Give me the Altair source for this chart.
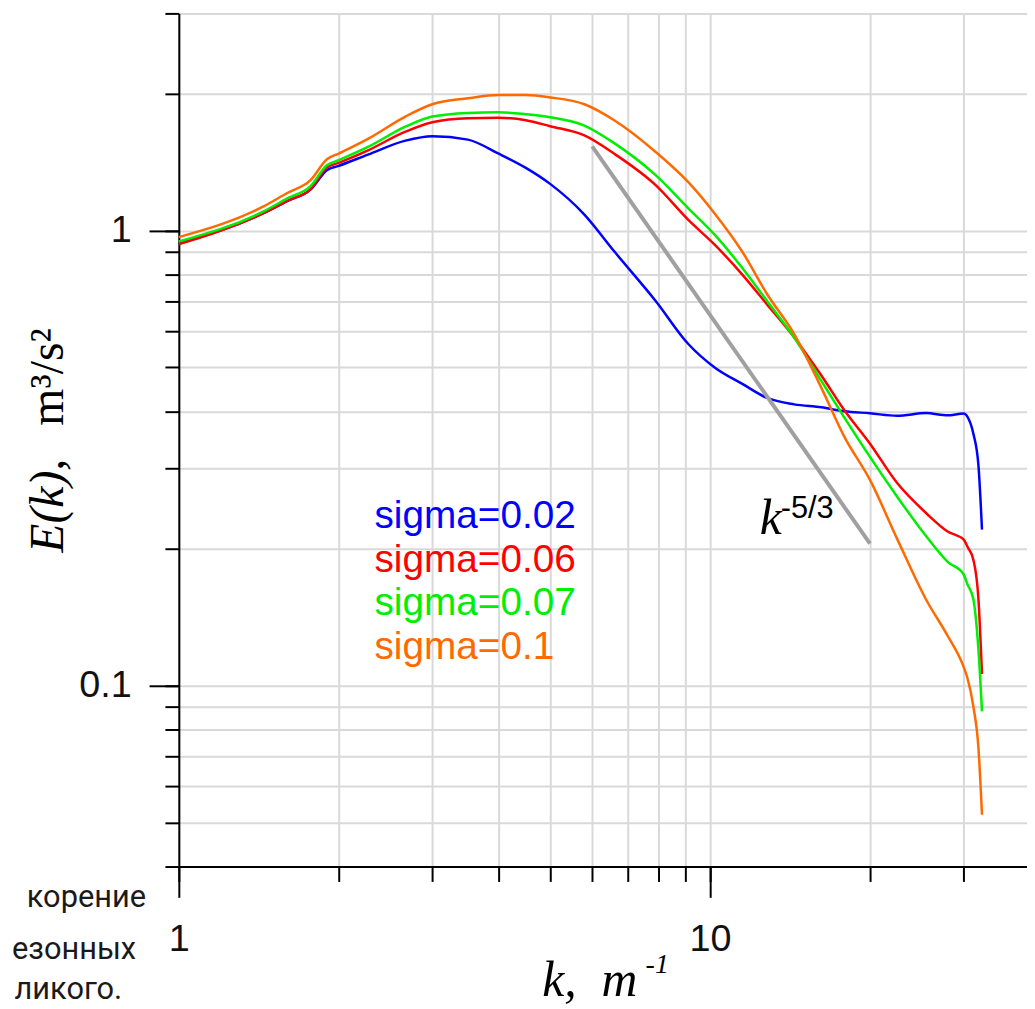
import altair as alt
import pandas as pd

# ---------------- data ----------------
K = [1.0, 1.44, 1.6, 1.77, 1.9, 2.0, 2.27, 2.67, 3.0, 3.5, 4.0, 4.5, 5.0, 5.8, 6.6, 7.9, 9.1,
     10.2, 11.5, 12.8, 14.4, 16.2, 17.9, 20.0, 22.5, 25.5, 28.0, 30.0, 30.5, 31.3, 32.0, 32.5]

E_SIGMA_002 = [0.935, 1.09, 1.16, 1.23, 1.357, 1.387, 1.468, 1.576, 1.612, 1.584, 1.475, 1.373,
               1.266, 1.084, 0.900, 0.700, 0.563, 0.500, 0.460, 0.4286, 0.4148, 0.4086, 0.4005,
               0.3965, 0.3915, 0.397, 0.3925, 0.396, 0.39, 0.358, 0.305, 0.22]
E_SIGMA_006 = [0.933, 1.091, 1.162, 1.233, 1.375, 1.408, 1.500, 1.649, 1.730, 1.765, 1.769, 1.747,
               1.695, 1.618, 1.475, 1.258, 1.055, 0.931, 0.800, 0.688, 0.582, 0.480, 0.4025,
               0.340, 0.2785, 0.2394, 0.218, 0.2094, 0.202, 0.189, 0.155, 0.106]
E_SIGMA_007 = [0.946, 1.100, 1.176, 1.252, 1.391, 1.427, 1.526, 1.691, 1.780, 1.813, 1.819, 1.801,
               1.774, 1.701, 1.556, 1.323, 1.119, 0.979, 0.827, 0.700, 0.582, 0.467, 0.388,
               0.318, 0.260, 0.213, 0.187, 0.1756, 0.167, 0.155, 0.120, 0.0877]
E_SIGMA_010 = [0.967, 1.128, 1.209, 1.290, 1.434, 1.476, 1.590, 1.780, 1.894, 1.952, 1.984, 1.984,
               1.961, 1.894, 1.747, 1.488, 1.277, 1.090, 0.898, 0.725, 0.592, 0.451, 0.352,
               0.283, 0.210, 0.1545, 0.1286, 0.110, 0.104, 0.090, 0.073, 0.052]

SERIES = ["sigma=0.02", "sigma=0.06", "sigma=0.07", "sigma=0.1"]
COLORS = ["#0000ff", "#ff0000", "#00ee00", "#ff6a00"]

K_REF = [6.0, 20.0]          # k^-5/3 reference line
E_REF = [1.53, 0.205]

X_TICKS = [1, 2, 3, 4, 5, 6, 7, 8, 9, 10, 20, 30]
X_LABELS = [1, 10]
Y_TICKS = [0.04, 0.05, 0.06, 0.07, 0.08, 0.09, 0.1, 0.2, 0.3, 0.4, 0.5, 0.6, 0.7, 0.8, 0.9,
           1, 2, 3]
Y_LABELS = [0.1, 1]
X_DOMAIN = [1, 39.5]
Y_DOMAIN = [0.04, 3]

SIDE_TEXT = ["корение", "езонных", "ликого."]

# ---------------- build ----------------
rows = []
for name, vals in zip(SERIES, [E_SIGMA_002, E_SIGMA_006, E_SIGMA_007, E_SIGMA_010]):
    for k, e in zip(K, vals):
        rows.append({"k": k, "E": e, "series": name})
df = pd.DataFrame(rows)
ref = pd.DataFrame({"k": K_REF, "E": E_REF})

W, H = 854, 859
xs = alt.Scale(type="log", domain=X_DOMAIN, nice=False)
ys = alt.Scale(type="log", domain=Y_DOMAIN, nice=False)

LABEL_FONT = "Liberation Sans"
SERIF = "Liberation Serif"
NB = "\u00a0"

x_minor = alt.Axis(values=X_TICKS, orient="bottom", labels=False, title=None, tickSize=15,
                   tickWidth=2, tickColor="black", domainColor="black", domainWidth=2,
                   grid=True, gridColor="#d9d9d9", gridWidth=2)
y_minor = alt.Axis(values=Y_TICKS, orient="left", labels=False, title=None, tickSize=14,
                   tickWidth=2, tickColor="black", domainColor="black", domainWidth=2,
                   grid=True, gridColor="#d9d9d9", gridWidth=2)
x_major = alt.Axis(values=X_LABELS, orient="bottom", title=None, tickSize=31, tickWidth=2,
                   tickColor="black", domain=False, grid=False, labelFont=LABEL_FONT,
                   labelFontSize=38, labelColor="#111111", labelPadding=24, labelFlush=False,
                   format="~g")
y_major = alt.Axis(values=Y_LABELS, orient="left", title=None, tickSize=30, tickWidth=2,
                   tickColor="black", domain=False, grid=False, labelFont=LABEL_FONT,
                   labelFontSize=38, labelColor="#111111", labelPadding=18, labelFlush=False,
                   format="~g")

lines = alt.Chart(df).mark_line(strokeWidth=2.5, interpolate="monotone").encode(
    x=alt.X("k:Q", scale=xs, axis=x_minor),
    y=alt.Y("E:Q", scale=ys, axis=y_minor),
    color=alt.Color("series:N", scale=alt.Scale(domain=SERIES, range=COLORS), legend=None),
)

refline = alt.Chart(ref).mark_line(strokeWidth=4, color="#a0a0a0").encode(
    x=alt.X("k:Q", scale=xs, axis=x_major),
    y=alt.Y("E:Q", scale=ys, axis=y_major),
)


def txt(text, x, y, size, color="black", font=LABEL_FONT, style="normal", align="left",
        angle=0):
    return alt.Chart(pd.DataFrame({"t": [text]})).mark_text(
        align=align, baseline="alphabetic", font=font, fontSize=size, fontStyle=style,
        color=color, angle=angle,
    ).encode(x=alt.value(x), y=alt.value(y), text="t:N")


texts = []
# legend
for i, (name, col) in enumerate(zip(SERIES, COLORS)):
    texts.append(txt(name, 197, 518 + 44 * i, 39, color=col))
# k^-5/3 annotation
texts.append(txt("k", 585, 524, 50, font=SERIF, style="italic"))
texts.append(txt("-5/3", 606, 508, 31))
# axis titles
texts.append(txt("E(k),", -117, 543, 48, font=SERIF, style="italic", angle=270))
texts.append(txt("m³/s²", -117, 317, 48, font=SERIF, angle=270, align="right"))
texts.append(txt("k," + NB + NB + "m", 366, 989, 50, font=SERIF, style="italic"))
texts.append(txt("-1", 470, 966, 28, font=SERIF, style="italic"))
# surrounding document fragments
side_font = "Roboto"
texts.append(txt(SIDE_TEXT[0], -33, 900, 31, font=side_font, color="#1a1a1a", align="right"))
texts.append(txt(SIDE_TEXT[1], -43, 952, 31, font=side_font, color="#1a1a1a", align="right"))
texts.append(txt(SIDE_TEXT[2], -57, 992, 31, font=side_font, color="#1a1a1a", align="right"))

chart = alt.layer(lines, refline, *texts).resolve_axis(
    x="independent", y="independent"
).properties(
    width=W, height=H,
    autosize=alt.AutoSizeParams(type="none"),
    padding={"left": 172, "top": 2, "right": 0, "bottom": 140},
).configure_view(stroke=None)

chart.save("out.html", embed_options={"renderer": "svg", "actions": False})
